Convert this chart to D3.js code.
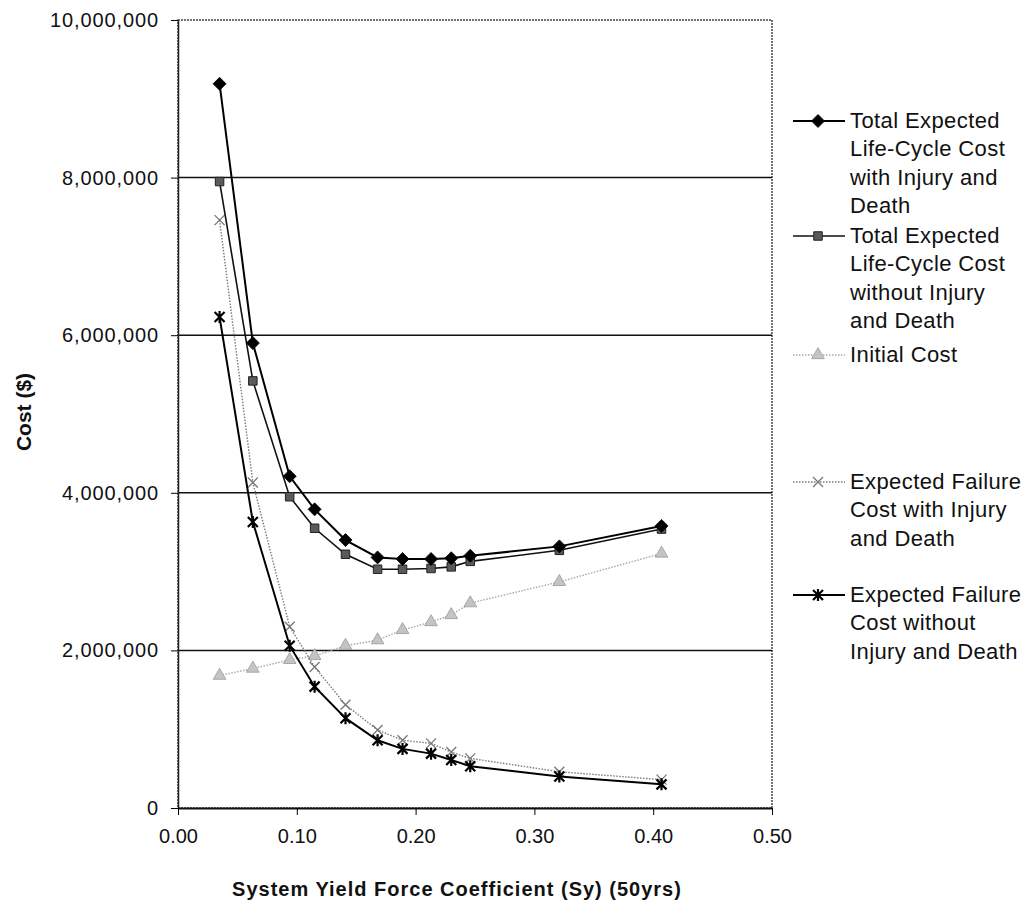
<!DOCTYPE html>
<html lang="en">
  <head>
    <meta charset="UTF-8">
    <script src="https://d3js.org/d3.v7.min.js"></script>
    <title>Expected Life-Cycle Cost</title>
    <style>
      body { margin: 0; background: #fff; }
      text { font-family: "Liberation Sans", Arial, sans-serif; fill: #111; }
    </style>
  </head>
  <body>
    <div id="chart"></div>
    <script>
      // values
      const syValues = [0.035, 0.063, 0.094, 0.115, 0.141, 0.168, 0.189, 0.213, 0.230, 0.246, 0.321, 0.407];
      const totalWithInjury = [9190000, 5900000, 4210000, 3790000, 3400000, 3180000, 3160000, 3160000, 3170000, 3200000, 3320000, 3580000];
      const totalWithoutInjury = [7950000, 5420000, 3950000, 3550000, 3220000, 3030000, 3030000, 3040000, 3060000, 3130000, 3270000, 3540000];
      const initialCost = [1680000, 1770000, 1880000, 1930000, 2060000, 2130000, 2260000, 2360000, 2450000, 2600000, 2870000, 3230000];
      const failureWithInjury = [7460000, 4130000, 2300000, 1790000, 1310000, 990000, 860000, 820000, 710000, 630000, 460000, 360000];
      const failureWithoutInjury = [6230000, 3630000, 2060000, 1540000, 1140000, 860000, 750000, 690000, 610000, 530000, 400000, 300000];

      const xTicks = [0, 0.1, 0.2, 0.3, 0.4, 0.5];
      const yTicks = [0, 2000000, 4000000, 6000000, 8000000, 10000000];

      const width = 1031, height = 910;
      const plotLeft = 178, plotRight = 772, plotTop = 20, plotBottom = 808;

      const xScale = d3.scaleLinear().domain([0, 0.5]).range([plotLeft, plotRight]);
      const yScale = d3.scaleLinear().domain([0, 10000000]).range([plotBottom, plotTop]);

      const svg = d3.select("#chart").append("svg")
                    .attr("width", width).attr("height", height);

      // frame
      svg.append("rect")
         .attr("x", plotLeft).attr("y", plotTop)
         .attr("width", plotRight - plotLeft).attr("height", plotBottom - plotTop)
         .attr("fill", "none").attr("stroke", "#444").attr("stroke-width", 1.5)
         .attr("stroke-dasharray", "2,1");

      // grid lines
      svg.append("g").selectAll("line")
         .data(yTicks.filter(d => d > 0 && d < 10000000))
         .join("line")
         .attr("x1", plotLeft).attr("x2", plotRight)
         .attr("y1", d => yScale(d)).attr("y2", d => yScale(d))
         .attr("stroke", "#111").attr("stroke-width", 1.5);

      // axes
      const yAxis = d3.axisLeft(yScale).tickValues(yTicks).tickFormat(d3.format(","))
                      .tickSize(7).tickSizeOuter(0).tickPadding(12);
      const gy = svg.append("g").attr("transform", "translate(" + plotLeft + ",0)").call(yAxis);
      gy.select(".domain").attr("stroke", "#222").attr("stroke-width", 1.5);
      gy.selectAll("text").attr("font-size", 20).attr("letter-spacing", "0.9px")
        .attr("font-family", "Liberation Sans, Arial, sans-serif").attr("fill", "#111");

      const xAxis = d3.axisBottom(xScale).tickValues(xTicks).tickFormat(d3.format(".2f"))
                      .tickSize(7).tickSizeOuter(0).tickPadding(14);
      const gx = svg.append("g").attr("transform", "translate(0," + plotBottom + ")").call(xAxis);
      gx.select(".domain").attr("stroke", "#111").attr("stroke-width", 2);
      gx.selectAll("text").attr("font-size", 20)
        .attr("font-family", "Liberation Sans, Arial, sans-serif").attr("fill", "#111");

      // axis titles
      svg.append("text")
         .attr("x", 457).attr("y", 896)
         .attr("text-anchor", "middle")
         .attr("font-size", 20).attr("font-weight", "bold").attr("letter-spacing", "1px")
         .text("System Yield Force Coefficient (Sy) (50yrs)");

      svg.append("text")
         .attr("transform", "translate(31,412) rotate(-90)")
         .attr("text-anchor", "middle")
         .attr("font-size", 21).attr("font-weight", "bold")
         .text("Cost ($)");

      // marker shapes
      const starPath = s => "M" + (-s) + "," + (-s) + "L" + s + "," + s +
                            "M" + (-s) + "," + s + "L" + s + "," + (-s) +
                            "M0," + (-s * 1.2) + "L0," + (s * 1.2);
      const xPath = s => "M" + (-s) + "," + (-s) + "L" + s + "," + s +
                         "M" + (-s) + "," + s + "L" + s + "," + (-s);
      const diamondPath = s => "M0," + (-s) + "L" + s + ",0L0," + s + "L" + (-s) + ",0Z";

      const series = [
        { name: ["Total Expected", "Life-Cycle Cost", "with Injury and", "Death"], values: totalWithInjury,
          stroke: "#000", width: 2, dash: null, marker: "diamond", fill: "#000", mstroke: "#000", legendY: 128 },
        { name: ["Total Expected", "Life-Cycle Cost", "without Injury", "and Death"], values: totalWithoutInjury,
          stroke: "#111", width: 1.6, dash: null, marker: "square", fill: "#5a5a5a", mstroke: "#222", legendY: 243 },
        { name: ["Initial Cost"], values: initialCost,
          stroke: "#a8a8a8", width: 1.4, dash: "1.5,1.5", marker: "triangle", fill: "#c4c4c4", mstroke: "#999", legendY: 362 },
        { name: ["Expected Failure", "Cost with Injury", "and Death"], values: failureWithInjury,
          stroke: "#7a7a7a", width: 1.4, dash: "1.5,1.5", marker: "x", fill: "none", mstroke: "#777", legendY: 489 },
        { name: ["Expected Failure", "Cost without", "Injury and Death"], values: failureWithoutInjury,
          stroke: "#000", width: 2, dash: null, marker: "star", fill: "none", mstroke: "#000", legendY: 602 }
      ];

      function drawMarker(g, s) {
        if (s.marker === "diamond") {
          g.append("path").attr("d", diamondPath(6.5))
           .attr("fill", s.fill).attr("stroke", s.mstroke).attr("stroke-width", 0.8);
        } else if (s.marker === "square") {
          g.append("path").attr("d", d3.symbol().type(d3.symbolSquare).size(72)())
           .attr("fill", s.fill).attr("stroke", s.mstroke).attr("stroke-width", 1);
        } else if (s.marker === "triangle") {
          g.append("path").attr("d", d3.symbol().type(d3.symbolTriangle).size(70)())
           .attr("fill", s.fill).attr("stroke", s.mstroke).attr("stroke-width", 0.8);
        } else if (s.marker === "x") {
          g.append("path").attr("d", xPath(5))
           .attr("fill", "none").attr("stroke", s.mstroke).attr("stroke-width", 1.3);
        } else if (s.marker === "star") {
          g.append("path").attr("d", starPath(5))
           .attr("fill", "none").attr("stroke", s.mstroke).attr("stroke-width", 2.2);
        }
      }

      const line = d3.line().x(d => xScale(d[0])).y(d => yScale(d[1]));
      const plot = svg.append("g");

      // draw back to front so the black lines stay on top
      [2, 3, 4, 1, 0].forEach(i => {
        const s = series[i];
        const pts = syValues.map((x, j) => [x, s.values[j]]);
        plot.append("path").datum(pts)
            .attr("d", line)
            .attr("fill", "none")
            .attr("stroke", s.stroke).attr("stroke-width", s.width)
            .attr("stroke-dasharray", s.dash);
        plot.append("g").selectAll("g")
            .data(pts).join("g")
            .attr("transform", d => "translate(" + xScale(d[0]) + "," + yScale(d[1]) + ")")
            .each(function() { drawMarker(d3.select(this), s); });
      });

      // legend
      const legend = svg.append("g");
      series.forEach(s => {
        const g = legend.append("g").attr("transform", "translate(0," + (s.legendY - 7) + ")");
        g.append("line").attr("x1", 793).attr("x2", 845).attr("y1", 0).attr("y2", 0)
         .attr("stroke", s.stroke).attr("stroke-width", s.width).attr("stroke-dasharray", s.dash);
        const m = g.append("g").attr("transform", "translate(818,0)");
        drawMarker(m, s);
        const t = legend.append("text").attr("x", 850).attr("y", s.legendY)
                        .attr("font-size", 22).attr("letter-spacing", "0.4px");
        s.name.forEach((ln, k) => {
          t.append("tspan").attr("x", 850).attr("y", s.legendY + k * 28.3).text(ln);
        });
      });
    </script>
  </body>
</html>
